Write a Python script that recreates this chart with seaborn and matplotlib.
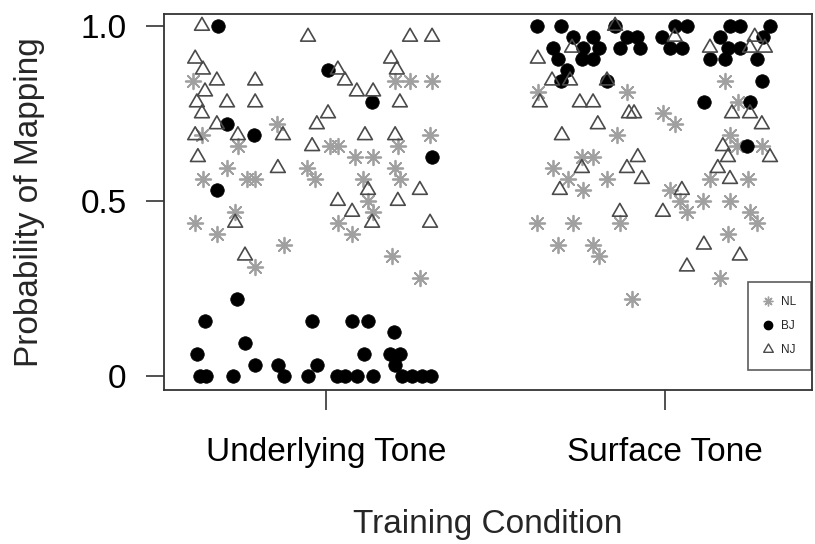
import numpy as np
import pandas as pd
import matplotlib
matplotlib.use("Agg")
import matplotlib.pyplot as plt
from matplotlib.lines import Line2D
from matplotlib.path import Path
import seaborn as sns

# Training conditions on the x axis (positions 1 and 2)
conditions = ["Underlying Tone", "Surface Tone"]
groups = ["NL", "BJ", "NJ"]
n_trials = 32

# Jittered condition position and number of mapped trials (out of 32) per participant
nl_under_x = [0.608, 0.855, 0.634, 0.740, 0.708, 0.944, 0.637, 0.767, 0.791, 1.204,
              1.248, 1.313, 1.307, 1.012, 1.035, 1.212, 1.086, 1.139, 1.204, 0.968,
              1.109, 1.218, 1.124, 1.139, 1.035, 1.077, 1.195, 1.277, 0.732, 0.614,
              0.678, 0.876, 0.791]
nl_under_k = [27, 23, 22, 21, 19, 19, 18, 18, 18, 27,
              27, 27, 22, 21, 21, 21, 20, 20, 19, 18,
              18, 18, 16, 15, 14, 13, 11, 9, 15, 14,
              13, 12, 10]

bj_under_x = [0.681, 1.006, 1.136, 0.708, 0.788, 1.313, 0.678, 0.737, 0.643, 0.959,
              1.077, 1.124, 1.201, 0.761, 0.619, 1.112, 1.189, 1.218, 0.791, 0.858,
              0.973, 1.204, 0.628, 0.646, 0.726, 0.876, 0.947, 1.032, 1.056, 1.091,
              1.139, 1.224, 1.254, 1.283, 1.310]
bj_under_k = [32, 28, 25, 23, 22, 20, 17, 7, 5, 5,
              5, 5, 4, 3, 2, 2, 2, 2, 1, 1,
              1, 1, 0, 0, 0, 0, 0, 0, 0, 0,
              0, 0, 0, 0, 0]

nj_under_x = [0.634, 0.947, 0.614, 0.637, 0.678, 0.791, 0.643, 0.619, 0.708, 0.791,
              0.634, 0.678, 0.614, 0.740, 0.873, 0.622, 0.858, 1.248, 1.313, 1.035,
              1.192, 1.056, 1.209, 1.091, 1.139, 1.218, 1.006, 0.973, 1.115, 1.204,
              0.959, 1.124, 1.277, 1.035, 1.212, 1.077, 1.136, 1.307, 0.732, 0.761]
nj_under_k = [32, 31, 29, 28, 27, 27, 26, 25, 25, 25,
              24, 23, 22, 22, 22, 20, 19, 31, 31, 28,
              29, 27, 28, 26, 26, 25, 24, 23, 22, 22,
              21, 17, 17, 16, 16, 15, 14, 14, 14, 11]

nl_surf_x = [1.625, 1.888, 1.858, 1.755, 1.788, 1.670, 1.714, 1.829, 1.758, 1.622,
             1.729, 1.867, 1.684, 1.788, 1.805, 1.903, 2.177, 2.215, 1.994, 2.029,
             2.192, 2.212, 2.286, 2.133, 2.245, 2.015, 2.044, 2.112, 2.192, 2.065,
             2.251, 2.271, 2.186, 2.162]
nl_surf_k = [26, 26, 22, 20, 20, 19, 18, 18, 17, 14,
             14, 14, 12, 12, 11, 7, 27, 25, 24, 23,
             22, 21, 21, 18, 18, 17, 16, 16, 16, 15,
             15, 14, 13, 9]

bj_surf_x = [1.622, 1.693, 1.853, 1.888, 1.729, 1.788, 1.670, 1.758, 1.805, 1.867,
             1.684, 1.755, 1.788, 1.711, 1.693, 1.829, 1.917, 1.926, 2.029, 2.065,
             1.991, 2.015, 2.050, 2.192, 2.221, 2.310, 2.162, 2.289, 2.186, 2.221,
             2.133, 2.177, 2.271, 2.286, 2.115, 2.251, 2.242]
bj_surf_k = [32, 32, 32, 31, 31, 31, 30, 30, 30, 30,
             29, 29, 29, 28, 27, 27, 31, 30, 32, 32,
             31, 30, 30, 32, 32, 32, 31, 31, 30, 30,
             29, 29, 29, 27, 25, 25, 21]

nj_surf_x = [1.853, 1.726, 1.625, 1.667, 1.720, 1.829, 1.631, 1.749, 1.788, 1.802,
             1.696, 1.894, 1.755, 1.888, 1.690, 1.867, 2.029, 2.133, 2.251, 2.295,
             2.265, 1.909, 2.198, 2.251, 2.286, 2.171, 2.310, 2.186, 1.920, 1.932,
             2.156, 2.192, 2.050, 1.994, 2.115, 2.221, 2.065]
nj_surf_k = [32, 30, 29, 27, 27, 27, 25, 25, 25, 23,
             22, 24, 19, 19, 17, 15, 31, 30, 30, 30,
             31, 24, 24, 24, 23, 21, 20, 20, 20, 18,
             19, 18, 17, 15, 12, 11, 10]

series = {
    "NL": (nl_under_x + nl_surf_x, nl_under_k + nl_surf_k),
    "BJ": (bj_under_x + bj_surf_x, bj_under_k + bj_surf_k),
    "NJ": (nj_under_x + nj_surf_x, nj_under_k + nj_surf_k),
}
frames = []
for g in groups:
    xs, ks = series[g]
    frames.append(pd.DataFrame({"position": xs,
                                "probability": np.array(ks) / n_trials,
                                "group": g}))
df = pd.concat(frames, ignore_index=True)

sns.set_theme(style="ticks")
plt.rcParams["font.family"] = ["Liberation Sans", "DejaVu Sans"]

# open equilateral triangle
tri = Path([(-1.0, -0.58), (1.0, -0.58), (0.0, 1.15), (-1.0, -0.58)],
           [Path.MOVETO, Path.LINETO, Path.LINETO, Path.CLOSEPOLY])
star = (8, 2, 0)
fs = 24

fig = plt.figure(figsize=(8.15, 5.44), dpi=100)
ax = fig.add_axes([164 / 815, 1 - 390 / 544, 648 / 815, 376 / 544])

sns.scatterplot(data=df[df.group == "NL"], x="position", y="probability",
                marker=star, color="#a0a0a0", s=125, linewidth=1.3, ax=ax,
                legend=False, zorder=2)
sns.scatterplot(data=df[df.group == "BJ"], x="position", y="probability",
                marker="o", color="black", edgecolor="black", s=95, linewidth=0.5,
                ax=ax, legend=False, zorder=3)
sns.scatterplot(data=df[df.group == "NJ"], x="position", y="probability",
                marker=tri, color="#4a4a4a", facecolors="none", edgecolor="#4a4a4a",
                s=150, linewidth=1.2, ax=ax, legend=False, zorder=4)

ax.set_xlim(0.522, 2.434)
ax.set_ylim(-0.04, 1.034)
ax.set_xticks([1, 2])
ax.set_xticklabels(conditions)
ax.set_yticks([0, 0.5, 1.0])
ax.set_yticklabels(["0", "0.5", "1.0"])
ax.tick_params(axis="both", width=1.2, color="#333333",
               labelsize=fs, labelcolor="black", direction="out")
ax.tick_params(axis="y", length=13, pad=14)
ax.tick_params(axis="x", length=14.5, pad=19)

ax.set_xlabel("Training Condition", fontsize=fs)
ax.set_ylabel("Probability of Mapping", fontsize=fs)
ax.xaxis.set_label_coords(0.5, -0.317)
ax.yaxis.set_label_coords(-0.184, 0.5)

for side in ["left", "right", "top", "bottom"]:
    ax.spines[side].set_visible(True)
    ax.spines[side].set_color("#333333")
    ax.spines[side].set_linewidth(1.3)

handles = [
    Line2D([], [], linestyle="none", marker=star, color="#a0a0a0",
           markersize=7, markeredgewidth=1.0),
    Line2D([], [], linestyle="none", marker="o", color="black", markersize=6),
    Line2D([], [], linestyle="none", marker=tri, color="#4a4a4a",
           markerfacecolor="none", markersize=8, markeredgewidth=1.0),
]
leg = ax.legend(handles, groups, loc="lower right", bbox_to_anchor=(0.998, 0.053),
                borderaxespad=0, frameon=True, fancybox=False, fontsize=8.5,
                handlelength=1.0, handletextpad=0.6, labelspacing=1.0,
                borderpad=1.2)
leg.get_frame().set_edgecolor("#333333")
leg.get_frame().set_linewidth(1.2)

fig.savefig("out.png", dpi=100)
